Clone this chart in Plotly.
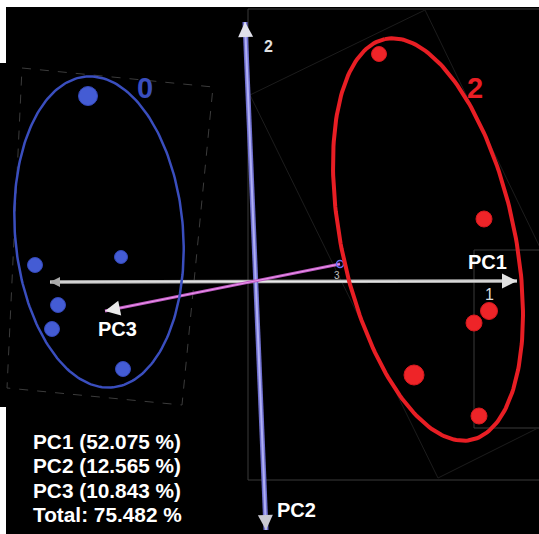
import numpy as np
import plotly.graph_objects as go

# Projected PCA scores (screen plane of the 3D view; origin = axes crossing)
g0_x = [-169, -136, -222, -199, -205, -134]
g0_y = [185, 24, 16, -24, -48, -88]
g0_size = [19, 13, 15, 15, 15, 15]

g2_x = [122, 227, 232, 217, 157, 222]
g2_y = [227, 62, -30, -42, -94, -135]
g2_size = [15, 16, 17, 16, 20, 16]

# Group ellipses: centre, semi-axes, orientation (deg)
ell0 = dict(cx=-158, cy=49, a=156, b=84, phi=94.8)
ell2 = dict(cx=171, cy=41.5, a=205, b=86.5, phi=102.2)

# Principal-component axes (projected): negative end -> positive end
pc1_x, pc1_y = [-207, 260], [-1, 0]
pc2_x, pc2_y = [9, -12], [-249, 259]
pc3_x, pc3_y = [83, -152], [17, -30]

variance_lines = ["PC1 (52.075 %)", "PC2 (12.565 %)", "PC3 (10.843 %)", "Total: 75.482 %"]

# Faint bounding frames of the 3D scene
frame_a_x = [-9, 282, None, -9, -9, None, -9, 282]
frame_a_y = [272, 272, None, 272, -199, None, -199, -199]
frame_b_x = [282, 217, 217, 282]
frame_b_y = [31, 31, -147, -147]
frame_c_x = [-7, 168, 353, 181, -7]
frame_c_y = [186, 271, -111, -197, 186]
frame_d_x = [-235, -44, -75, -250, -235]
frame_d_y = [213, 194, -124, -107, 213]


def ellipse(p, n=240):
    t = np.linspace(0, 2 * np.pi, n)
    ph = np.deg2rad(p["phi"])
    ux, uy = np.cos(ph), np.sin(ph)
    vx, vy = -np.sin(ph), np.cos(ph)
    x = p["cx"] + p["a"] * np.cos(t) * ux + p["b"] * np.sin(t) * vx
    y = p["cy"] + p["a"] * np.cos(t) * uy + p["b"] * np.sin(t) * vy
    return x, y


BLUE = "rgb(58,78,190)"
RED = "rgb(232,30,36)"
FONT = "Liberation Sans, Arial, sans-serif"

fig = go.Figure()


def line(x, y, color, width, dash="solid"):
    fig.add_trace(go.Scatter(x=x, y=y, mode="lines", hoverinfo="skip",
                             line=dict(color=color, width=width, dash=dash),
                             connectgaps=False))


# scene frames
line(frame_a_x, frame_a_y, "rgb(58,58,58)", 1)
line(frame_b_x, frame_b_y, "rgb(58,58,58)", 1)
line(frame_c_x, frame_c_y, "rgb(28,28,28)", 1)
line(frame_d_x, frame_d_y, "rgb(60,60,60)", 1, "dash")

# axes
line(pc1_x, pc1_y, "rgb(185,185,185)", 3.5)
line(pc1_x, pc1_y, "rgb(235,235,235)", 1)
line(pc2_x, pc2_y, "rgb(110,110,205)", 5)
line(pc2_x, pc2_y, "rgb(175,175,245)", 2)
line(pc3_x, pc3_y, "rgb(190,90,195)", 3)
line(pc3_x, pc3_y, "rgb(235,150,235)", 1)
fig.add_trace(go.Scatter(x=[pc3_x[0]], y=[pc3_y[0]], mode="markers", hoverinfo="skip",
                         marker=dict(symbol="circle-open", size=7,
                                     line=dict(color="rgb(230,190,230)", width=1.5))))

# ellipses
ex, ey = ellipse(ell0)
line(ex, ey, BLUE, 2.5)
ex, ey = ellipse(ell2)
line(ex, ey, RED, 4)

# samples
fig.add_trace(go.Scatter(x=g0_x, y=g0_y, mode="markers", hoverinfo="skip",
                         marker=dict(size=g0_size, color="rgb(68,92,212)", opacity=1,
                                     line=dict(width=1, color="rgb(52,72,185)"))))
fig.add_trace(go.Scatter(x=g2_x, y=g2_y, mode="markers", hoverinfo="skip",
                         marker=dict(size=g2_size, color="rgb(238,36,40)", opacity=1,
                                     line=dict(width=1, color="rgb(215,25,30)"))))


def arrow_tip(xs, ys, end, color, back=14, width=3, head=2, size=1.0):
    # arrowhead at the chosen end of an axis segment
    i, j = (1, 0) if end == 1 else (0, 1)
    dx, dy = xs[i] - xs[j], ys[i] - ys[j]
    L = np.hypot(dx, dy)
    return dict(x=xs[i], y=ys[i], ax=xs[i] - dx / L * back, ay=ys[i] - dy / L * back,
                xref="x", yref="y", axref="x", ayref="y", text="", showarrow=True,
                arrowhead=head, arrowsize=size, arrowwidth=width, arrowcolor=color)


annotations = [
    arrow_tip(pc1_x, pc1_y, 1, "rgb(225,225,225)"),
    arrow_tip(pc1_x, pc1_y, 0, "rgb(170,170,170)", back=8, width=2),
    arrow_tip(pc2_x, pc2_y, 1, "rgb(225,225,235)", back=14),
    arrow_tip(pc2_x, pc2_y, 0, "rgb(200,200,210)", back=12),
    arrow_tip(pc3_x, pc3_y, 1, "rgb(235,235,235)", back=14),
]


def label(text, x, y, size, color, bold=True, xanchor="center"):
    return dict(x=x, y=y, xref="x", yref="y", text=text, showarrow=False,
                xanchor=xanchor, yanchor="middle",
                font=dict(family=FONT, size=size, color=color,
                          weight="bold" if bold else "normal"))


annotations += [
    label("PC1", 230, 19, 20, "white"),
    label("PC2", 39, -229, 20, "white"),
    label("PC3", -140, -48, 20, "white"),
    label("1", 232, -13, 16, "rgb(220,220,220)", bold=False),
    label("2", 11, 235, 16, "rgb(225,225,225)"),
    label("3", 80, 6, 10, "rgb(190,190,190)", bold=False),
    label("0", -112, 193, 29, BLUE),
    label("2", 218, 193, 29, RED),
]
for k, txt in enumerate(variance_lines):
    annotations.append(label(txt, -226, -160 - 24.5 * k, 20.8, "white", xanchor="left"))

# black scene panel (plus the strip reaching the left border)
shapes = [dict(type="rect", xref="paper", yref="paper", x0=-6 / 533, x1=0,
               y0=(534 - 407) / 527, y1=(534 - 63) / 527,
               fillcolor="black", line=dict(width=0), layer="below")]

fig.update_layout(
    width=539, height=534, autosize=False,
    margin=dict(l=6, r=0, t=7, b=0, pad=0),
    paper_bgcolor="white", plot_bgcolor="black",
    showlegend=False,
    xaxis=dict(range=[-251, 282], visible=False, fixedrange=True),
    yaxis=dict(range=[-253, 274], visible=False, fixedrange=True),
    annotations=annotations, shapes=shapes,
)

fig.write_html("out.html")
